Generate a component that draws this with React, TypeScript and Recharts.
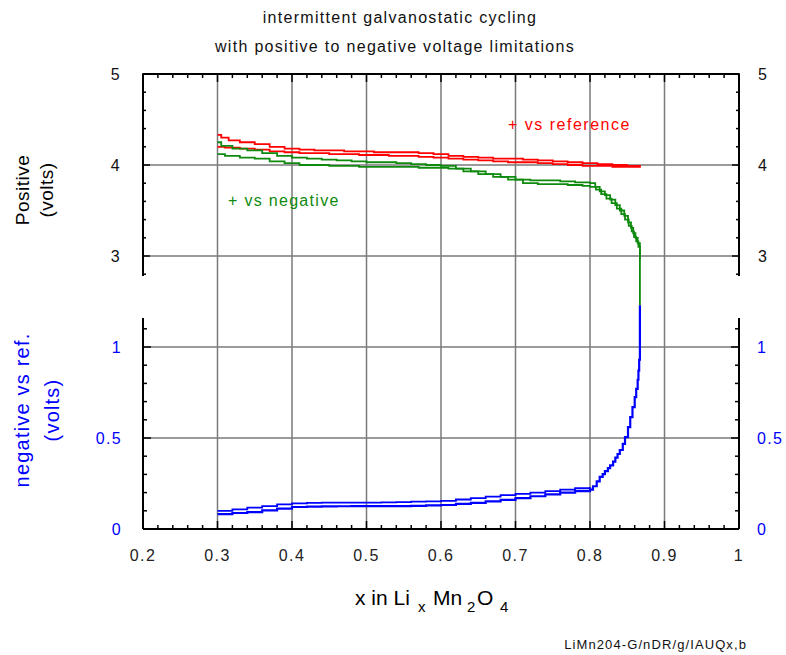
import React from 'react';
import { LineChart, Line, XAxis, YAxis, ReferenceLine, CartesianGrid } from 'recharts';

// ---- data (x in LixMn2O4, volts) ----
const redUpperX = [0.300, 0.305, 0.315, 0.33, 0.35, 0.37, 0.39, 0.41, 0.43, 0.45, 0.47, 0.49, 0.51, 0.53, 0.55, 0.57, 0.59, 0.61, 0.63, 0.65, 0.67, 0.69, 0.71, 0.73, 0.75, 0.77, 0.79, 0.81, 0.83, 0.85, 0.867];
const redUpperV = [4.33, 4.30, 4.27, 4.25, 4.23, 4.20, 4.18, 4.17, 4.16, 4.16, 4.15, 4.15, 4.14, 4.14, 4.14, 4.13, 4.12, 4.10, 4.09, 4.08, 4.07, 4.07, 4.06, 4.05, 4.04, 4.03, 4.02, 4.01, 4.00, 3.99, 3.98];
const redLowerX = [0.300, 0.31, 0.33, 0.35, 0.37, 0.39, 0.41, 0.43, 0.45, 0.47, 0.49, 0.51, 0.53, 0.55, 0.57, 0.59, 0.61, 0.63, 0.65, 0.67, 0.69, 0.71, 0.73, 0.75, 0.77, 0.79, 0.81, 0.83, 0.85, 0.867];
const redLowerV = [4.20, 4.19, 4.18, 4.17, 4.15, 4.14, 4.13, 4.13, 4.12, 4.12, 4.11, 4.11, 4.10, 4.10, 4.09, 4.08, 4.07, 4.06, 4.05, 4.04, 4.03, 4.03, 4.02, 4.01, 4.00, 3.99, 3.99, 3.98, 3.98, 3.97];

const greenUpperX = [0.300, 0.305, 0.32, 0.34, 0.36, 0.38, 0.40, 0.42, 0.44, 0.46, 0.48, 0.50, 0.52, 0.54, 0.56, 0.58, 0.60, 0.62, 0.64, 0.66, 0.68, 0.70, 0.72, 0.74, 0.76, 0.78, 0.80, 0.807, 0.813, 0.820, 0.827, 0.834, 0.840, 0.846, 0.851, 0.855, 0.858, 0.861, 0.864, 0.867, 0.867, 0.867];
const greenUpperV = [4.25, 4.21, 4.18, 4.16, 4.13, 4.10, 4.08, 4.07, 4.06, 4.05, 4.04, 4.03, 4.03, 4.02, 4.01, 4.00, 3.99, 3.96, 3.93, 3.90, 3.87, 3.84, 3.83, 3.83, 3.82, 3.81, 3.80, 3.76, 3.71, 3.67, 3.62, 3.56, 3.50, 3.44, 3.37, 3.31, 3.25, 3.20, 3.14, 2.99, 2.85, 2.46];
const greenLowerX = [0.300, 0.31, 0.33, 0.35, 0.37, 0.39, 0.41, 0.43, 0.45, 0.47, 0.49, 0.51, 0.53, 0.55, 0.57, 0.59, 0.61, 0.63, 0.65, 0.67, 0.69, 0.71, 0.73, 0.75, 0.77, 0.79, 0.80, 0.808, 0.815, 0.822, 0.829, 0.836, 0.842, 0.847, 0.852, 0.856, 0.859, 0.862, 0.865, 0.867];
const greenLowerV = [4.12, 4.10, 4.08, 4.07, 4.04, 4.02, 4.00, 4.00, 3.99, 3.99, 3.98, 3.98, 3.98, 3.98, 3.97, 3.97, 3.96, 3.93, 3.90, 3.87, 3.84, 3.80, 3.79, 3.79, 3.78, 3.77, 3.76, 3.73, 3.68, 3.63, 3.58, 3.52, 3.46, 3.40, 3.33, 3.27, 3.21, 3.16, 3.10, 2.97];

const blueUpperX = [0.300, 0.32, 0.34, 0.36, 0.38, 0.40, 0.42, 0.44, 0.46, 0.48, 0.50, 0.52, 0.54, 0.56, 0.58, 0.60, 0.62, 0.64, 0.66, 0.68, 0.70, 0.72, 0.74, 0.76, 0.78, 0.80];
const blueUpperV = [0.100, 0.108, 0.117, 0.126, 0.135, 0.141, 0.143, 0.145, 0.145, 0.145, 0.145, 0.146, 0.148, 0.150, 0.152, 0.155, 0.162, 0.170, 0.178, 0.186, 0.193, 0.200, 0.208, 0.216, 0.224, 0.231];
const blueLowerX = [0.300, 0.32, 0.34, 0.36, 0.38, 0.40, 0.42, 0.44, 0.46, 0.48, 0.50, 0.52, 0.54, 0.56, 0.58, 0.60, 0.62, 0.64, 0.66, 0.68, 0.70, 0.72, 0.74, 0.76, 0.78, 0.80, 0.804, 0.809, 0.813, 0.817, 0.820, 0.824, 0.827, 0.831, 0.834, 0.837, 0.840, 0.844, 0.847, 0.851, 0.854, 0.857, 0.860, 0.862, 0.864, 0.865, 0.866, 0.867, 0.867];
const blueLowerV = [0.082, 0.088, 0.093, 0.102, 0.112, 0.121, 0.123, 0.124, 0.125, 0.126, 0.126, 0.126, 0.126, 0.127, 0.130, 0.132, 0.138, 0.144, 0.152, 0.160, 0.170, 0.180, 0.190, 0.200, 0.208, 0.216, 0.235, 0.262, 0.286, 0.302, 0.318, 0.334, 0.350, 0.370, 0.392, 0.412, 0.434, 0.468, 0.505, 0.560, 0.615, 0.670, 0.725, 0.770, 0.820, 0.870, 0.930, 1.110, 1.230];

// ---- axis ticks ----
const xMajor = [0.2, 0.3, 0.4, 0.5, 0.6, 0.7, 0.8, 0.9, 1.0];
const xLabels = ['0.2', '0.3', '0.4', '0.5', '0.6', '0.7', '0.8', '0.9', '1'];
const posMajor = [3, 4, 5];
const posLabels = ['3', '4', '5'];
const negMajor = [0, 0.5, 1];
const negLabels = ['0', '0.5', '1'];
const xGrid = [0.3, 0.4, 0.5, 0.6, 0.7, 0.8, 0.9];
const posGrid = [3, 4];
const negGrid = [0.5, 1];

const xTicks = Array.from({ length: 41 }, (_, i) => +(0.2 + i * 0.02).toFixed(2));
const posTicks = Array.from({ length: 12 }, (_, i) => +(2.8 + i * 0.2).toFixed(1));
const negTicks = Array.from({ length: 12 }, (_, i) => +(i * 0.1).toFixed(1));

const zip = (xs: number[], vs: number[]) => xs.map((x, i) => ({ x, v: vs[i] }));

const FONT = '"Liberation Sans", Arial, Helvetica, sans-serif';
const BLUE = '#0000ff';
const GREEN = '#0f8a0f';
const RED = '#ff0000';

function labelFor(v: number, majors: number[], labels: string[]) {
  const i = majors.findIndex((m) => Math.abs(m - v) < 1e-6);
  return i >= 0 ? labels[i] : null;
}

const makeYTick = (side: 'left' | 'right', majors: number[], labels: string[], color: string) => (props: any) => {
  const { x, y, payload } = props;
  const lab = labelFor(payload.value, majors, labels);
  const len = lab !== null ? 8 : 4;
  const dir = side === 'left' ? 1 : -1;
  return (
    <g>
      <line x1={x} y1={y} x2={x + dir * len} y2={y} stroke="#000" strokeWidth={1.5} />
      {lab !== null && (
        <text x={side === 'left' ? x - 21 : x + 18} y={y} dy="0.36em" textAnchor={side === 'left' ? 'end' : 'start'}
          fill={color} fontSize={16} letterSpacing={1.3} fontFamily={FONT}>{lab}</text>
      )}
    </g>
  );
};

const makeXTick = (side: 'top' | 'bottom') => (props: any) => {
  const { x, y, payload } = props;
  const lab = labelFor(payload.value, xMajor, xLabels);
  const len = lab !== null ? 8 : 4;
  const dir = side === 'bottom' ? -1 : 1;
  return (
    <g>
      <line x1={x} y1={y} x2={x} y2={y + dir * len} stroke="#000" strokeWidth={1.5} />
      {side === 'bottom' && lab !== null && (
        <text x={x} y={y + 26} dy="0.36em" textAnchor="middle" fill="#222" fontSize={16} letterSpacing={1.4} fontFamily={FONT}>{lab}</text>
      )}
    </g>
  );
};

export default function App() {
  return (
    <div style={{ position: 'absolute', left: 0, top: 0, width: 786, height: 655, background: '#fff' }}>
      <LineChart width={786} height={655} margin={{ left: 141, top: 73, right: 45, bottom: 125 }}>
        <XAxis xAxisId="b" type="number" dataKey="x" domain={[0.2, 1]} ticks={xTicks} interval={0}
          orientation="bottom" height={1} tickSize={0} tickMargin={0} tickLine={false}
          axisLine={{ stroke: '#000', strokeWidth: 2 }} tick={makeXTick('bottom')} allowDataOverflow />
        <XAxis xAxisId="t" type="number" dataKey="x" domain={[0.2, 1]} ticks={xTicks} interval={0}
          orientation="top" height={1} tickSize={0} tickMargin={0} tickLine={false}
          axisLine={{ stroke: '#000', strokeWidth: 2 }} tick={makeXTick('top')} allowDataOverflow />
        <YAxis yAxisId="pos" type="number" domain={[0, 5]} ticks={posTicks} interval={0} orientation="left"
          width={1} tickSize={0} tickMargin={0} tickLine={false} axisLine={false}
          tick={makeYTick('left', posMajor, posLabels, '#111')} allowDataOverflow />
        <YAxis yAxisId="neg" type="number" domain={[0, 2.5]} ticks={negTicks} interval={0} orientation="left"
          width={1} tickSize={0} tickMargin={0} tickLine={false} axisLine={false}
          tick={makeYTick('left', negMajor, negLabels, BLUE)} allowDataOverflow />
        <YAxis yAxisId="posR" type="number" domain={[0, 5]} ticks={posTicks} interval={0} orientation="right"
          width={1} tickSize={0} tickMargin={0} tickLine={false} axisLine={false}
          tick={makeYTick('right', posMajor, posLabels, '#111')} allowDataOverflow />
        <YAxis yAxisId="negR" type="number" domain={[0, 2.5]} ticks={negTicks} interval={0} orientation="right"
          width={1} tickSize={0} tickMargin={0} tickLine={false} axisLine={false}
          tick={makeYTick('right', negMajor, negLabels, BLUE)} allowDataOverflow />

        <CartesianGrid xAxisId="b" yAxisId="pos" stroke="#7a7a7a" strokeWidth={1.5}
          verticalValues={xGrid} horizontalValues={posGrid} />
        <CartesianGrid xAxisId="b" yAxisId="neg" stroke="#7a7a7a" strokeWidth={1.5}
          vertical={false} horizontalValues={negGrid} />

        <ReferenceLine xAxisId="b" yAxisId="pos" segment={[{ x: 0.2, y: 2.78 }, { x: 0.2, y: 5 }]} stroke="#000" strokeWidth={2} ifOverflow="visible" />
        <ReferenceLine xAxisId="b" yAxisId="neg" segment={[{ x: 0.2, y: 0 }, { x: 0.2, y: 1.16 }]} stroke="#000" strokeWidth={2} ifOverflow="visible" />
        <ReferenceLine xAxisId="b" yAxisId="pos" segment={[{ x: 1, y: 2.78 }, { x: 1, y: 5 }]} stroke="#000" strokeWidth={2} ifOverflow="visible" />
        <ReferenceLine xAxisId="b" yAxisId="neg" segment={[{ x: 1, y: 0 }, { x: 1, y: 1.16 }]} stroke="#000" strokeWidth={2} ifOverflow="visible" />

        <Line xAxisId="b" yAxisId="pos" data={zip(redUpperX, redUpperV)} dataKey="v" type="stepAfter" stroke={RED} strokeWidth={1.8} dot={false} isAnimationActive={false} />
        <Line xAxisId="b" yAxisId="pos" data={zip(redLowerX, redLowerV)} dataKey="v" type="stepAfter" stroke={RED} strokeWidth={1.8} dot={false} isAnimationActive={false} />
        <Line xAxisId="b" yAxisId="pos" data={zip(greenUpperX, greenUpperV)} dataKey="v" type="stepAfter" stroke={GREEN} strokeWidth={1.8} dot={false} isAnimationActive={false} />
        <Line xAxisId="b" yAxisId="pos" data={zip(greenLowerX, greenLowerV)} dataKey="v" type="stepAfter" stroke={GREEN} strokeWidth={1.8} dot={false} isAnimationActive={false} />
        <Line xAxisId="b" yAxisId="neg" data={zip(blueUpperX, blueUpperV)} dataKey="v" type="stepAfter" stroke={BLUE} strokeWidth={1.8} dot={false} isAnimationActive={false} />
        <Line xAxisId="b" yAxisId="neg" data={zip(blueLowerX, blueLowerV)} dataKey="v" type="stepAfter" stroke={BLUE} strokeWidth={2.2} dot={false} isAnimationActive={false} />
      </LineChart>

      <svg width={786} height={655} style={{ position: 'absolute', left: 0, top: 0, pointerEvents: 'none' }} fontFamily={FONT}>
        <text x={400} y={23} textAnchor="middle" fontSize={16} letterSpacing={1.3} fill="#111">intermittent galvanostatic cycling</text>
        <text x={395} y={52} textAnchor="middle" fontSize={16} letterSpacing={1.3} fill="#111">with positive to negative voltage limitations</text>
        <text x={508} y={130} fontSize={16} letterSpacing={1.5} fill={RED}>+ vs reference</text>
        <text x={228} y={206} fontSize={16} letterSpacing={1.3} fill={GREEN}>+ vs negative</text>
        <text transform="translate(29,190) rotate(-90)" textAnchor="middle" fontSize={19} letterSpacing={0.5} fill="#000">Positive</text>
        <text transform="translate(53,190) rotate(-90)" textAnchor="middle" fontSize={19} letterSpacing={0.5} fill="#000">(volts)</text>
        <text transform="translate(29,410) rotate(-90)" textAnchor="middle" fontSize={20} letterSpacing={1.2} fill={BLUE}>negative vs ref.</text>
        <text transform="translate(59,410) rotate(-90)" textAnchor="middle" fontSize={20} letterSpacing={1.2} fill={BLUE}>(volts)</text>
        <text y={605} fontSize={21} fill="#000">
          <tspan x={355}>x in Li</tspan>
          <tspan x={418} dy={7} fontSize={15}>x</tspan>
          <tspan x={433} dy={-7}>Mn</tspan>
          <tspan x={467} dy={7} fontSize={15}>2</tspan>
          <tspan x={477} dy={-7}>O</tspan>
          <tspan x={500} dy={7} fontSize={15}>4</tspan>
        </text>
        <text x={747} y={649} textAnchor="end" fontSize={13} letterSpacing={1.1} fill="#111">LiMn204-G/nDR/g/IAUQx,b</text>
      </svg>
    </div>
  );
}
